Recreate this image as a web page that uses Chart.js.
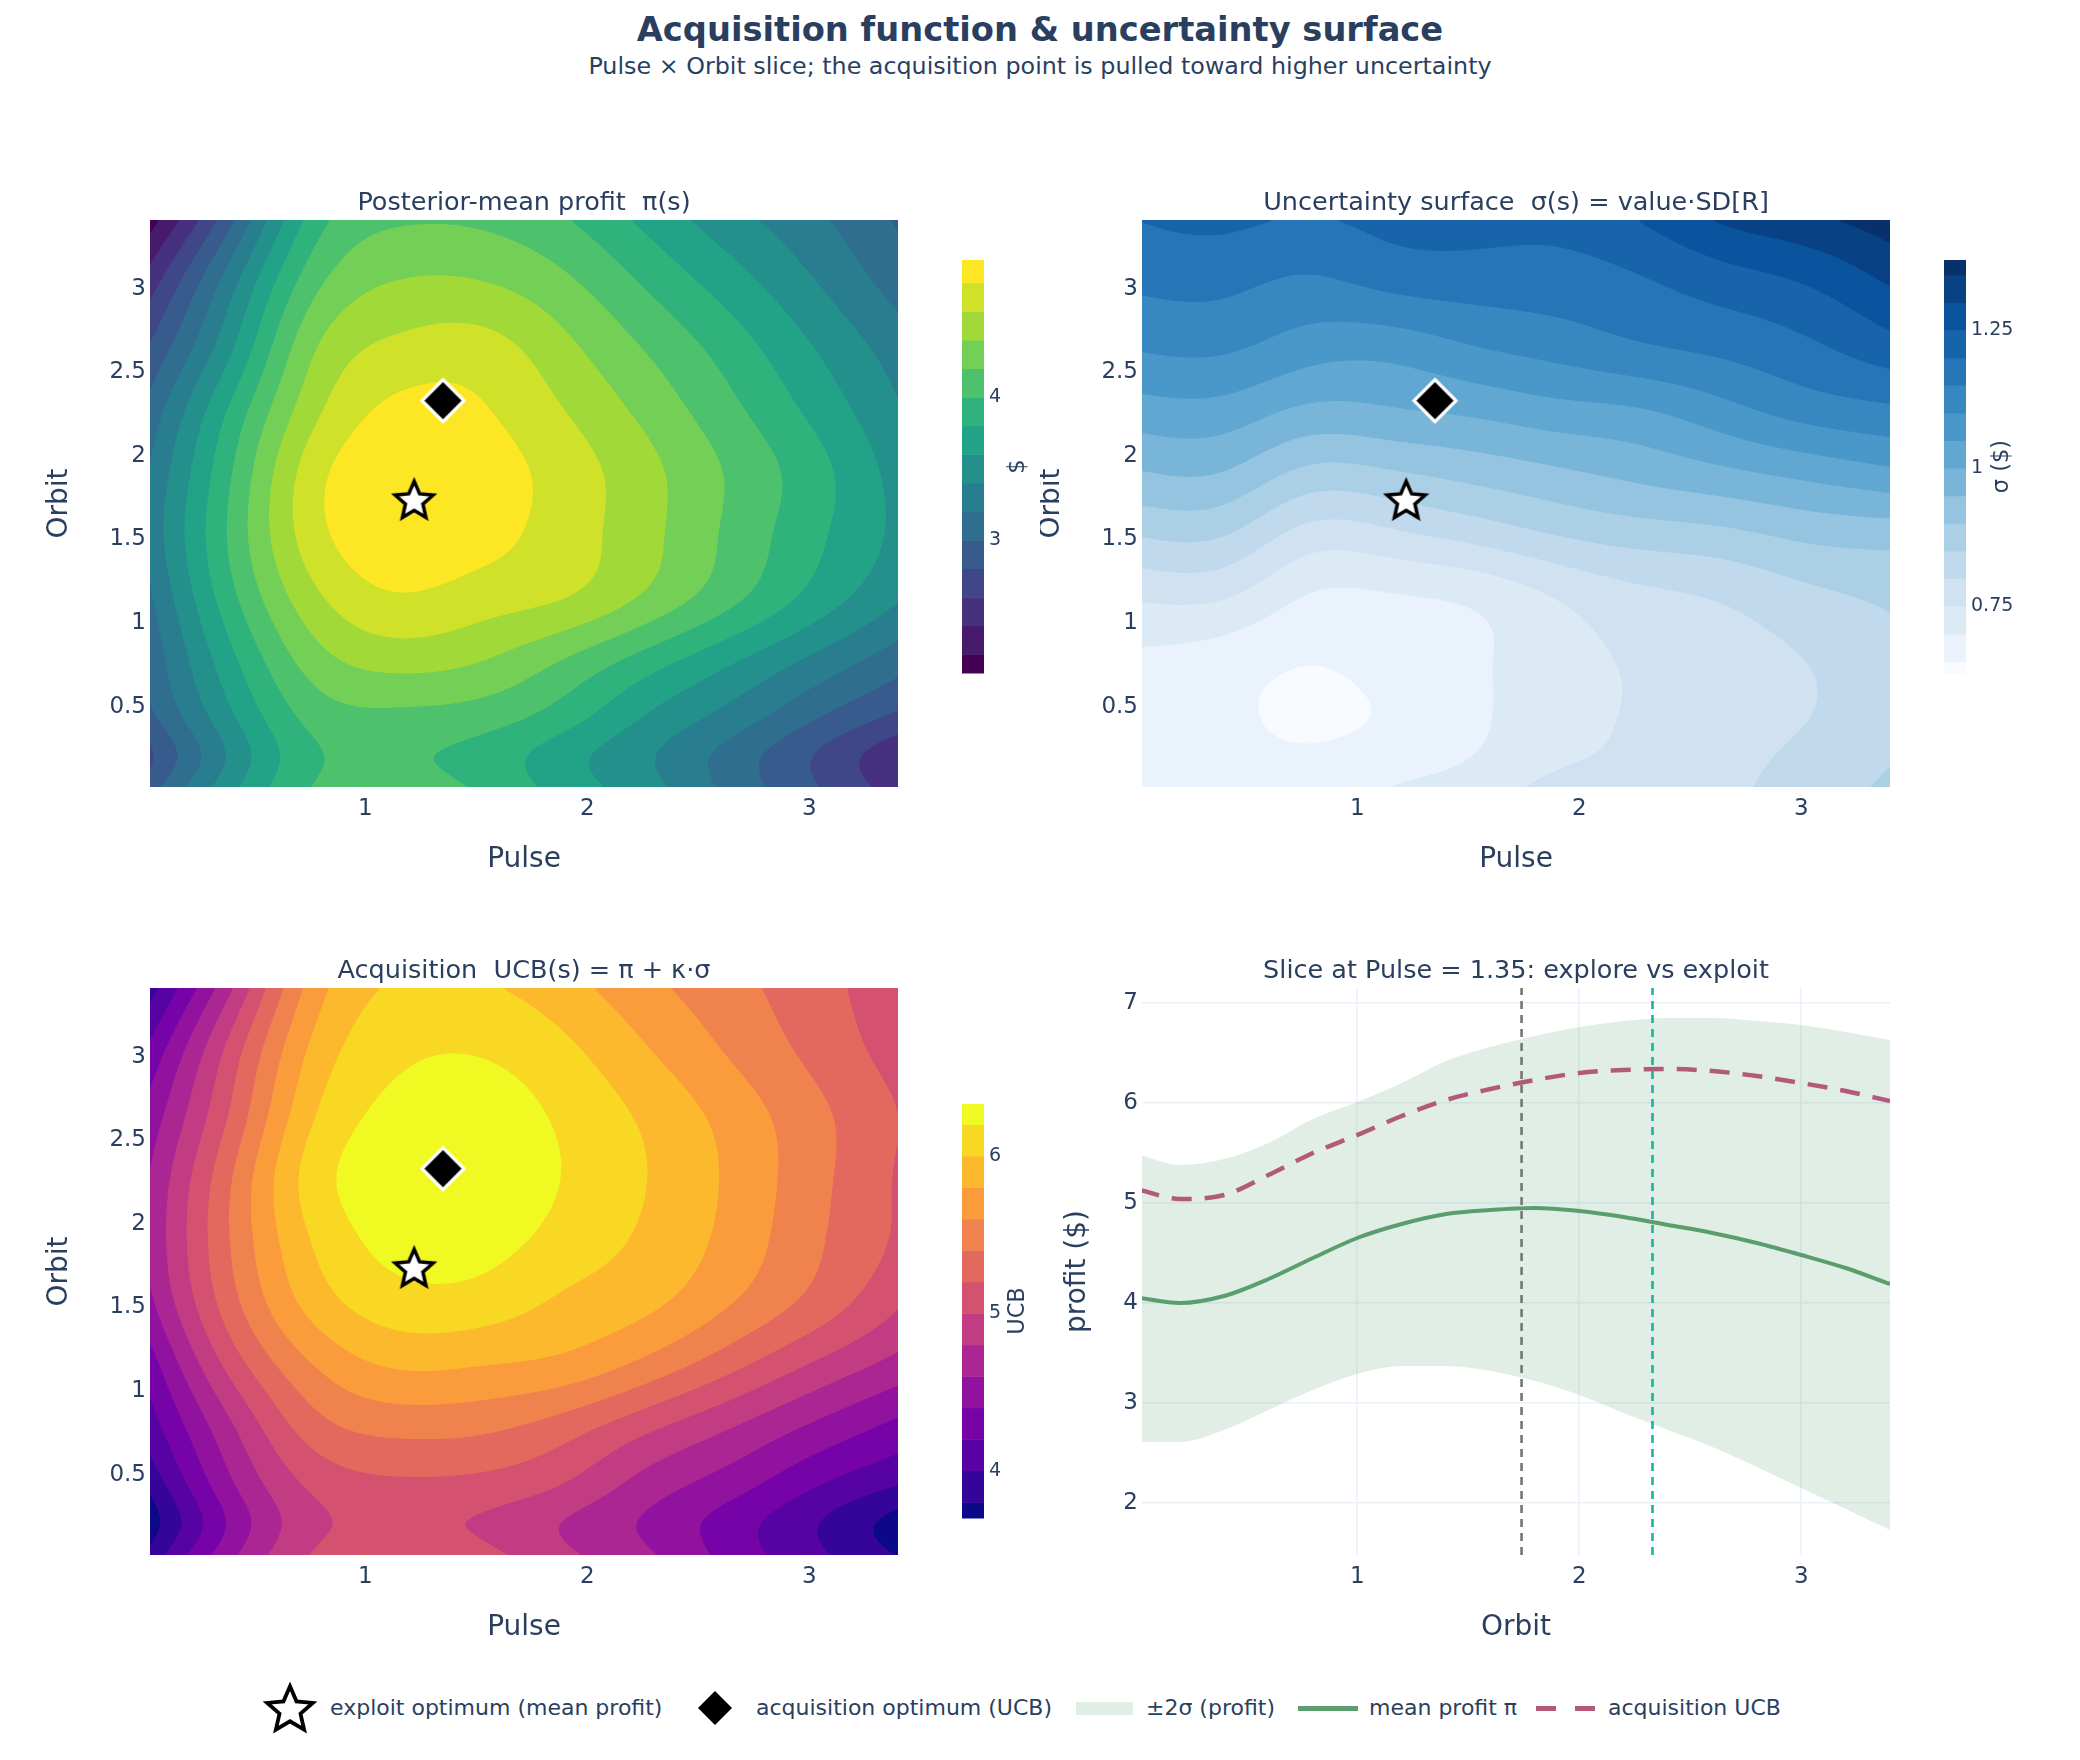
<!DOCTYPE html>
<html>
<head>
<meta charset="utf-8">
<script src="https://cdn.jsdelivr.net/npm/chart.js@4.4.1/dist/chart.umd.min.js"></script>
<style>
  body { margin: 0; background: #fff; }
  #page { position: relative; width: 2080px; height: 1760px; background: #fff; overflow: hidden;
          font-family: "DejaVu Sans", Verdana, sans-serif; color: #2a3f5f; }
  #page canvas { position: absolute; }
  .txt { position: absolute; white-space: pre; }
</style>
</head>
<body>
<div id="page">
  <div class="txt" style="left:0;width:2080px;top:10px;line-height:40px;text-align:center;font-weight:bold;font-size:33.7px;">Acquisition function &amp; uncertainty surface</div>
  <div class="txt" style="left:0;width:2080px;top:51px;line-height:30px;text-align:center;font-size:23.8px;">Pulse × Orbit slice; the acquisition point is pulled toward higher uncertainty</div>
  <canvas id="cProfit" width="1040" height="720" style="left:0;top:180px"></canvas>
  <canvas id="cSigma" width="1040" height="720" style="left:1040px;top:180px"></canvas>
  <canvas id="cUcb" width="1040" height="720" style="left:0;top:950px"></canvas>
  <canvas id="cSlice" width="1040" height="720" style="left:1040px;top:950px"></canvas>
</div>
<script>
// ---- valori ----
const pulseGrid = [0.02, 0.4, 0.77, 1.15, 1.52, 1.9, 2.27, 2.65, 3.02, 3.4];
const orbitGrid = [0.02, 0.21, 0.4, 0.77, 1.15, 1.52, 1.9, 2.27, 2.65, 3.02, 3.4];

// righe = orbitGrid (dal basso verso l'alto), colonne = pulseGrid
const profitZ = [
  [2.90, 3.55, 4.01, 4.08, 3.97, 3.71, 3.47, 3.13, 2.82, 2.50],
  [2.75, 3.45, 3.97, 4.03, 3.93, 3.68, 3.43, 3.12, 2.80, 2.45],
  [2.90, 3.55, 4.05, 4.12, 4.06, 3.85, 3.55, 3.28, 2.98, 2.70],
  [3.05, 3.75, 4.30, 4.47, 4.40, 4.18, 3.90, 3.62, 3.35, 3.08],
  [3.15, 3.95, 4.55, 4.78, 4.70, 4.60, 4.36, 4.05, 3.73, 3.42],
  [3.25, 4.05, 4.72, 4.93, 4.87, 4.70, 4.46, 4.15, 3.85, 3.55],
  [3.20, 4.00, 4.72, 4.95, 4.90, 4.71, 4.46, 4.17, 3.88, 3.52],
  [3.05, 3.85, 4.55, 4.85, 4.82, 4.60, 4.34, 4.05, 3.75, 3.42],
  [2.80, 3.58, 4.38, 4.65, 4.68, 4.45, 4.18, 3.90, 3.60, 3.30],
  [2.50, 3.35, 4.15, 4.42, 4.42, 4.25, 3.98, 3.70, 3.42, 3.12],
  [2.10, 2.98, 3.90, 4.18, 4.17, 4.02, 3.75, 3.48, 3.25, 2.98]
];
const sigmaZ = [
  [0.680, 0.672, 0.660, 0.700, 0.720, 0.765, 0.770, 0.790, 0.820, 0.860],
  [0.675, 0.665, 0.655, 0.675, 0.700, 0.740, 0.760, 0.785, 0.810, 0.845],
  [0.675, 0.662, 0.641, 0.658, 0.690, 0.735, 0.755, 0.780, 0.800, 0.835],
  [0.690, 0.675, 0.652, 0.668, 0.690, 0.735, 0.755, 0.780, 0.800, 0.835],
  [0.755, 0.752, 0.697, 0.695, 0.710, 0.752, 0.785, 0.805, 0.835, 0.858],
  [0.851, 0.850, 0.779, 0.787, 0.815, 0.849, 0.871, 0.885, 0.910, 0.920],
  [0.947, 0.948, 0.888, 0.895, 0.918, 0.942, 0.965, 0.990, 1.015, 1.040],
  [1.028, 1.030, 0.990, 0.995, 1.010, 1.032, 1.046, 1.083, 1.120, 1.140],
  [1.105, 1.108, 1.075, 1.070, 1.098, 1.120, 1.144, 1.163, 1.190, 1.230],
  [1.157, 1.160, 1.140, 1.160, 1.170, 1.175, 1.192, 1.222, 1.250, 1.302],
  [1.200, 1.210, 1.195, 1.215, 1.220, 1.215, 1.250, 1.305, 1.335, 1.375]
];
const ucbZ = [
  [3.86, 4.56, 5.02, 5.13, 5.06, 4.84, 4.63, 4.32, 4.05, 3.79],
  [3.68, 4.45, 4.95, 5.04, 4.98, 4.79, 4.57, 4.30, 4.02, 3.72],
  [3.80, 4.55, 5.02, 5.13, 5.10, 4.95, 4.68, 4.45, 4.18, 3.95],
  [4.08, 4.77, 5.30, 5.45, 5.43, 5.28, 5.03, 4.79, 4.55, 4.33],
  [4.28, 5.08, 5.60, 5.82, 5.80, 5.73, 5.53, 5.25, 4.97, 4.72],
  [4.53, 5.33, 5.88, 6.11, 6.10, 5.96, 5.84, 5.60, 5.33, 5.02],
  [4.62, 5.42, 6.02, 6.27, 6.28, 6.12, 5.96, 5.73, 5.44, 5.17],
  [4.59, 5.40, 6.10, 6.31, 6.33, 6.19, 6.00, 5.76, 5.47, 5.18],
  [4.46, 5.24, 5.99, 6.26, 6.30, 6.16, 5.96, 5.72, 5.46, 5.20],
  [4.24, 5.10, 5.86, 6.16, 6.19, 6.05, 5.82, 5.58, 5.35, 5.12],
  [3.90, 4.80, 5.70, 6.03, 6.03, 5.88, 5.66, 5.47, 5.28, 5.08]
];

const profitLevels = [2.2, 2.4, 2.6, 2.8, 3.0, 3.2, 3.4, 3.6, 3.8, 4.0, 4.2, 4.4, 4.6, 4.8];
const sigmaLevels = [0.65, 0.7, 0.75, 0.8, 0.85, 0.9, 0.95, 1.0, 1.05, 1.1, 1.15, 1.2, 1.25, 1.3, 1.35];
const ucbLevels = [3.8, 4.0, 4.2, 4.4, 4.6, 4.8, 5.0, 5.2, 5.4, 5.6, 5.8, 6.0, 6.2];

const profitBarRange = [2.07, 4.96];
const sigmaBarRange = [0.629, 1.377];
const ucbBarRange = [3.70, 6.33];
const profitBarTicks = [3, 4];
const sigmaBarTicks = [0.75, 1, 1.25];
const ucbBarTicks = [4, 5, 6];

const exploitOpt = [1.22, 1.74];   // [Pulse, Orbit]
const acquireOpt = [1.35, 2.33];

// sezione a Pulse = 1.35
const sliceOrbit = [0.02, 0.2, 0.4, 0.6, 0.8, 1.0, 1.2, 1.4, 1.6, 1.8, 2.0, 2.2, 2.4, 2.6, 2.8, 3.0, 3.2, 3.4];
const sliceMean  = [4.05, 4.00, 4.07, 4.24, 4.45, 4.65, 4.79, 4.89, 4.93, 4.95, 4.92, 4.86, 4.78, 4.70, 4.60, 4.48, 4.35, 4.19];
const sliceUpper = [5.48, 5.38, 5.44, 5.60, 5.84, 6.01, 6.20, 6.42, 6.56, 6.67, 6.76, 6.82, 6.85, 6.85, 6.82, 6.78, 6.71, 6.63];
const sliceLower = [2.61, 2.61, 2.73, 2.93, 3.13, 3.29, 3.37, 3.37, 3.32, 3.22, 3.08, 2.90, 2.73, 2.56, 2.36, 2.15, 1.94, 1.73];
const sliceUcb   = [5.13, 5.04, 5.08, 5.28, 5.50, 5.68, 5.87, 6.03, 6.14, 6.23, 6.30, 6.33, 6.34, 6.32, 6.27, 6.20, 6.12, 6.02];

const pulseRange = [0.03, 3.4];
const orbitRange = [0.02, 3.41];
const sliceYRange = [1.48, 7.15];
const gridTicks = [1, 2, 3];
const orbitTicks = [0.5, 1, 1.5, 2, 2.5, 3];
const profitTicks = [2, 3, 4, 5, 6, 7];

const viridis = ['#440154','#482878','#3e4989','#31688e','#26828e','#1f9e89','#35b779','#6ece58','#b5de2b','#fde725'];
const blues = ['#f7fbff','#deebf7','#c6dbef','#9ecae1','#6baed6','#4292c6','#2171b5','#08519c','#08306b'];
const plasma = ['#0d0887','#46039f','#7201a8','#9c179e','#bd3786','#d8576b','#ed7953','#fb9f3a','#fdca26','#f0f921'];

const FONT = '"DejaVu Sans", Verdana, sans-serif';
const INK = '#2a3f5f';
Chart.defaults.font.family = FONT;
Chart.defaults.color = INK;

// ---- colori ----
function hexToRgb(h) {
  return [parseInt(h.slice(1, 3), 16), parseInt(h.slice(3, 5), 16), parseInt(h.slice(5, 7), 16)];
}
function scaleColor(stops, t) {
  const n = stops.length - 1;
  const f = Math.min(Math.max(t, 0), 1) * n;
  const i = Math.min(Math.floor(f), n - 1);
  const u = f - i;
  const a = hexToRgb(stops[i]), b = hexToRgb(stops[i + 1]);
  return a.map((v, k) => Math.round(v + (b[k] - v) * u));
}
function bandColors(stops, nBands) {
  const out = [];
  for (let k = 0; k < nBands; k++) out.push(scaleColor(stops, k / (nBands - 1)));
  return out;
}
const rgb = c => `rgb(${c[0]},${c[1]},${c[2]})`;

// ---- spline cubica naturale sulla griglia (solo per il disegno) ----
function splineM(xs, ys) {
  const n = xs.length;
  const M = new Array(n).fill(0);
  const a = [], b = [], c = [], r = [];
  for (let i = 1; i < n - 1; i++) {
    const h0 = xs[i] - xs[i - 1], h1 = xs[i + 1] - xs[i];
    a.push(h0 / 6); b.push((h0 + h1) / 3); c.push(h1 / 6);
    r.push((ys[i + 1] - ys[i]) / h1 - (ys[i] - ys[i - 1]) / h0);
  }
  const m = r.length;
  for (let i = 1; i < m; i++) {
    const w = a[i] / b[i - 1];
    b[i] -= w * c[i - 1];
    r[i] -= w * r[i - 1];
  }
  const sol = new Array(m);
  sol[m - 1] = r[m - 1] / b[m - 1];
  for (let i = m - 2; i >= 0; i--) sol[i] = (r[i] - c[i] * sol[i + 1]) / b[i];
  for (let i = 0; i < m; i++) M[i + 1] = sol[i];
  return M;
}
function segIndex(grid, v) {
  let i = 0;
  while (i < grid.length - 2 && v > grid[i + 1]) i++;
  return i;
}
function splineEval(xs, ys, M, i, x) {
  x = Math.min(Math.max(x, xs[0]), xs[xs.length - 1]);
  const h = xs[i + 1] - xs[i];
  const A = (xs[i + 1] - x) / h, B = (x - xs[i]) / h;
  return A * ys[i] + B * ys[i + 1] + ((A * A * A - A) * M[i] + (B * B * B - B) * M[i + 1]) * h * h / 6;
}

function renderField(sx, sy, a, z, levels, colors) {
  const SS = 2;
  const w = Math.round((a.right - a.left) * SS), h = Math.round((a.bottom - a.top) * SS);
  const off = document.createElement('canvas');
  off.width = w; off.height = h;
  const g = off.getContext('2d');
  const img = g.createImageData(w, h);
  const d = img.data;
  const nc = pulseGrid.length;
  const zCols = [], colM = [];
  for (let c = 0; c < nc; c++) {
    zCols.push(z.map(r => r[c]));
    colM.push(splineM(orbitGrid, zCols[c]));
  }
  const px = [], pi = [];
  for (let i = 0; i < w; i++) {
    const p = sx.getValueForPixel(a.left + (i + 0.5) / SS);
    px.push(p); pi.push(segIndex(pulseGrid, p));
  }
  const row = new Array(nc);
  for (let j = 0; j < h; j++) {
    const o = sy.getValueForPixel(a.top + (j + 0.5) / SS);
    const oi = segIndex(orbitGrid, o);
    for (let c = 0; c < nc; c++) row[c] = splineEval(orbitGrid, zCols[c], colM[c], oi, o);
    const rowM = splineM(pulseGrid, row);
    for (let i = 0; i < w; i++) {
      const v = splineEval(pulseGrid, row, rowM, pi[i], px[i]);
      let k = 0;
      while (k < levels.length && v >= levels[k]) k++;
      const col = colors[k];
      const idx = (j * w + i) * 4;
      d[idx] = col[0]; d[idx + 1] = col[1]; d[idx + 2] = col[2]; d[idx + 3] = 255;
    }
  }
  g.putImageData(img, 0, 0);
  return off;
}

function contourPlugin(z, levels, colors) {
  let cache = null;
  return {
    id: 'contourFill',
    beforeDatasetsDraw(chart) {
      const { ctx, chartArea: a, scales } = chart;
      if (!cache) cache = renderField(scales.x, scales.y, a, z, levels, colors);
      ctx.save();
      ctx.imageSmoothingEnabled = true;
      ctx.imageSmoothingQuality = 'high';
      ctx.drawImage(cache, a.left, a.top, a.right - a.left, a.bottom - a.top);
      ctx.restore();
    }
  };
}

// testi del pannello + colorbar
function panelText(cfg) {
  return {
    id: 'panelText',
    afterDraw(chart) {
      const { ctx, chartArea: a } = chart;
      const cx = (a.left + a.right) / 2;
      ctx.save();
      ctx.fillStyle = INK;
      ctx.textAlign = 'center';
      ctx.textBaseline = 'middle';
      ctx.font = `25.5px ${FONT}`;
      ctx.fillText(cfg.title, cx, a.top - 17);
      ctx.font = `28px ${FONT}`;
      ctx.fillText(cfg.xTitle, cx, a.bottom + 73);
      ctx.translate(a.left - cfg.yGap, (a.top + a.bottom) / 2);
      ctx.rotate(-Math.PI / 2);
      ctx.fillText(cfg.yTitle, 0, 0);
      ctx.restore();
      if (cfg.bar) drawColorbar(ctx, a, cfg.bar);
    }
  };
}

function drawColorbar(ctx, a, bar) {
  const x = a.right + bar.dx, top = a.top + bar.dt, bottom = a.bottom - bar.db, w = 22;
  const [lo, hi] = bar.range;
  const toY = v => bottom - (v - lo) / (hi - lo) * (bottom - top);
  const edges = [lo, ...bar.levels, hi];
  ctx.save();
  for (let k = 0; k < bar.colors.length; k++) {
    const y0 = toY(edges[k]), y1 = toY(edges[k + 1]);
    ctx.fillStyle = rgb(bar.colors[k]);
    ctx.fillRect(x, y1, w, y0 - y1 + 0.5);
  }
  ctx.fillStyle = INK;
  ctx.font = `19px ${FONT}`;
  ctx.textAlign = 'left';
  ctx.textBaseline = 'middle';
  bar.ticks.forEach(v => ctx.fillText(String(v), x + w + 5, toY(v)));
  ctx.font = `22.5px ${FONT}`;
  ctx.textAlign = 'center';
  ctx.translate(x + bar.titleGap, (top + bottom) / 2);
  ctx.rotate(-Math.PI / 2);
  ctx.fillText(bar.title, 0, 0);
  ctx.restore();
}

// ---- simboli ----
function starPath(g, cx, cy, R, ratio) {
  g.beginPath();
  for (let i = 0; i < 10; i++) {
    const r = i % 2 ? R * ratio : R;
    const ang = -Math.PI / 2 + i * Math.PI / 5;
    const px = cx + r * Math.cos(ang), py = cy + r * Math.sin(ang);
    if (i) g.lineTo(px, py); else g.moveTo(px, py);
  }
  g.closePath();
}
function makeStar(R, lw) {
  const c = document.createElement('canvas');
  const s = Math.ceil(2 * R + 2 * lw + 4);
  c.width = c.height = s;
  const g = c.getContext('2d');
  starPath(g, s / 2, s / 2 + 0.095 * R, R, 0.46);
  g.fillStyle = '#fff';
  g.fill();
  g.lineWidth = lw;
  g.strokeStyle = '#000';
  g.stroke();
  return c;
}
function makeDiamond(h, lw, stroke) {
  const c = document.createElement('canvas');
  const s = Math.ceil(2 * h + 2 * lw + 4);
  c.width = c.height = s;
  const g = c.getContext('2d');
  const m = s / 2;
  g.beginPath();
  g.moveTo(m, m - h); g.lineTo(m + h, m); g.lineTo(m, m + h); g.lineTo(m - h, m);
  g.closePath();
  g.fillStyle = '#000';
  g.fill();
  if (stroke) { g.lineWidth = lw; g.strokeStyle = stroke; g.stroke(); }
  return c;
}
const starImg = makeStar(20, 3.5);
const diamondImg = makeDiamond(21, 3.2, '#fff');

const tickFont = { size: 23 };
const fixTicks = vals => axis => { axis.ticks = vals.map(v => ({ value: v })); };

function surfaceChart(id, z, levels, stops, bar, title, pad, yWidth, xHeight, barPos) {
  const colors = bandColors(stops, levels.length + 1);
  return new Chart(document.getElementById(id), {
    type: 'scatter',
    data: {
      datasets: [
        { data: [{ x: exploitOpt[0], y: exploitOpt[1] }], pointStyle: starImg, pointRadius: 22 },
        { data: [{ x: acquireOpt[0], y: acquireOpt[1] }], pointStyle: diamondImg, pointRadius: 22 }
      ]
    },
    options: {
      responsive: false, animation: false, events: [], devicePixelRatio: 1,
      layout: { padding: pad },
      scales: {
        x: {
          type: 'linear', min: pulseRange[0], max: pulseRange[1],
          grid: { display: false, drawTicks: false }, border: { display: false },
          ticks: { font: tickFont, color: INK, padding: 8, maxRotation: 0, callback: v => String(v) },
          afterBuildTicks: fixTicks(gridTicks),
          afterFit: s => { s.height = xHeight; }
        },
        y: {
          type: 'linear', min: orbitRange[0], max: orbitRange[1],
          grid: { display: false, drawTicks: false }, border: { display: false },
          ticks: { font: tickFont, color: INK, padding: 4, callback: v => String(v) },
          afterBuildTicks: fixTicks(orbitTicks),
          afterFit: s => { s.width = yWidth; }
        }
      },
      plugins: { legend: { display: false }, tooltip: { enabled: false } }
    },
    plugins: [
      contourPlugin(z, levels, colors),
      panelText({ title: title, xTitle: 'Pulse', yTitle: 'Orbit', yGap: 90,
        bar: Object.assign({ levels: levels, colors: colors }, bar, barPos) })
    ]
  });
}

surfaceChart('cProfit', profitZ, profitLevels, viridis,
  { range: profitBarRange, ticks: profitBarTicks, title: '$', titleGap: 56 },
  'Posterior-mean profit  π(s)', { top: 40, right: 142, left: 0, bottom: 0 }, 150, 113,
  { dx: 64, dt: 40, db: 114 });

surfaceChart('cSigma', sigmaZ, sigmaLevels, blues,
  { range: sigmaBarRange, ticks: sigmaBarTicks, title: 'σ ($)', titleGap: 58 },
  'Uncertainty surface  σ(s) = value·SD[R]', { top: 40, right: 190, left: 0, bottom: 0 }, 102, 113,
  { dx: 54, dt: 40, db: 114 });

surfaceChart('cUcb', ucbZ, ucbLevels, plasma,
  { range: ucbBarRange, ticks: ucbBarTicks, title: 'UCB', titleGap: 56 },
  'Acquisition  UCB(s) = π + κ·σ', { top: 38, right: 142, left: 0, bottom: 0 }, 150, 115,
  { dx: 64, dt: 116, db: 37 });

// ---- sezione esplora/sfrutta ----
const pts = vals => sliceOrbit.map((o, i) => ({ x: o, y: vals[i] }));
const vline = x => [{ x: x, y: sliceYRange[0] }, { x: x, y: sliceYRange[1] }];
const gridColor = '#EBF0F8';

new Chart(document.getElementById('cSlice'), {
  type: 'line',
  data: {
    datasets: [
      { data: pts(sliceLower), borderWidth: 0, pointRadius: 0, fill: false, order: 6, cubicInterpolationMode: 'monotone' },
      { data: pts(sliceUpper), borderWidth: 0, pointRadius: 0, fill: '-1', backgroundColor: 'rgba(90,158,110,0.18)', order: 5, cubicInterpolationMode: 'monotone' },
      { data: pts(sliceMean), borderColor: '#5a9e6e', borderWidth: 4, pointRadius: 0, fill: false, order: 3, cubicInterpolationMode: 'monotone' },
      { data: pts(sliceUcb), borderColor: '#b35a7b', borderWidth: 4.5, borderDash: [20, 13], pointRadius: 0, fill: false, order: 2, cubicInterpolationMode: 'monotone' },
      { data: vline(exploitOpt[1]), borderColor: '#777777', borderWidth: 2.6, borderDash: [8, 6], pointRadius: 0, fill: false, order: 1 },
      { data: vline(acquireOpt[1]), borderColor: '#19b3a4', borderWidth: 2.6, borderDash: [8, 6], pointRadius: 0, fill: false, order: 0 }
    ]
  },
  options: {
    responsive: false, animation: false, events: [], devicePixelRatio: 1,
    layout: { padding: { top: 38, right: 190, left: 0, bottom: 0 } },
    scales: {
      x: {
        type: 'linear', min: pulseRange[0], max: pulseRange[1],
        grid: { color: gridColor, lineWidth: 1.6, drawTicks: false }, border: { display: false },
        ticks: { font: tickFont, color: INK, padding: 8, maxRotation: 0, callback: v => String(v) },
        afterBuildTicks: fixTicks(gridTicks),
        afterFit: s => { s.height = 115; }
      },
      y: {
        type: 'linear', min: sliceYRange[0], max: sliceYRange[1],
        grid: { color: gridColor, lineWidth: 1.6, drawTicks: false }, border: { display: false },
        ticks: { font: tickFont, color: INK, padding: 4, callback: v => String(v) },
        afterBuildTicks: fixTicks(profitTicks),
        afterFit: s => { s.width = 102; }
      }
    },
    plugins: { legend: { display: false }, tooltip: { enabled: false } }
  },
  plugins: [panelText({ title: 'Slice at Pulse = 1.35: explore vs exploit', xTitle: 'Orbit', yTitle: 'profit ($)', yGap: 64 })]
});

// ---- legenda ----
const page = document.getElementById('page');
const LEG_Y = 1708;
function legendIcon(draw, cx, w, h) {
  const c = document.createElement('canvas');
  c.width = w; c.height = h;
  c.style.left = (cx - w / 2) + 'px';
  c.style.top = (LEG_Y - h / 2) + 'px';
  draw(c.getContext('2d'), w, h);
  page.appendChild(c);
}
function legendText(x, text) {
  const d = document.createElement('div');
  d.className = 'txt';
  d.style.left = x + 'px';
  d.style.top = (LEG_Y - 15) + 'px';
  d.style.lineHeight = '30px';
  d.style.fontSize = '22px';
  d.textContent = text;
  page.appendChild(d);
}
const legStar = makeStar(24, 3.8);
legendIcon((g) => g.drawImage(legStar, 0, 0), 290, legStar.width, legStar.height);
legendText(330, 'exploit optimum (mean profit)');
const legDiamond = makeDiamond(17, 0, null);
legendIcon((g) => g.drawImage(legDiamond, 0, 0), 715, legDiamond.width, legDiamond.height);
legendText(756, 'acquisition optimum (UCB)');
legendIcon((g, w, h) => { g.fillStyle = 'rgba(90,158,110,0.18)'; g.fillRect(0, 0, w, h); }, 1104, 57, 13);
legendText(1146, '±2σ (profit)');
legendIcon((g, w, h) => { g.fillStyle = '#5a9e6e'; g.fillRect(0, 0, w, h); }, 1328, 60, 5);
legendText(1369, 'mean profit π');
legendIcon((g, w, h) => { g.fillStyle = '#b35a7b'; g.fillRect(0, 0, 20, h); g.fillRect(39, 0, 20, h); }, 1565, 59, 5);
legendText(1608, 'acquisition UCB');
</script>
</body>
</html>
